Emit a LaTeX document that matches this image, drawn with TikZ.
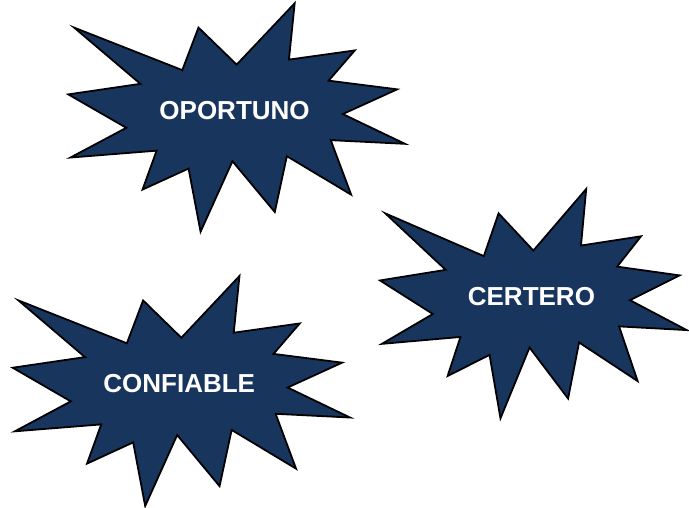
\documentclass[tikz,border=0pt]{standalone}
\usepackage{fontspec}
\setmainfont{Liberation Sans}
\definecolor{burstblue}{RGB}{24,54,93}
\tikzset{
    x=1pt, y=-1pt, % picture measured in pixels, y downwards
    burst/.style={draw=black, line width=1.8pt, fill=burstblue, line join=miter},
    burst text/.style={text=white, font=\fontsize{26}{30}\selectfont\bfseries},
}
% starburst: x, y, width, height, name, text
\newcommand{\burstat}[6]{%
    \begin{scope}[shift={(#1,#2)}, xscale=#3/216, yscale=#4/216]
        \draw[burst] (108,58) -- (145.22,0) -- (141.55,53.25) -- (183.8,44.57)
            -- (167.02,73.15) -- (210.97,81.37) -- (176.07,104.75) -- (216,132.9)
            -- (168.37,129.42) -- (181.45,180.95) -- (140.2,144.57) -- (132.47,197.37)
            -- (105.32,149.35) -- (84.85,216) -- (77.15,156.27) -- (47.62,176.17)
            -- (56.67,139.37) -- (1.35,145.87) -- (37.22,117.75) -- (0,86.15)
            -- (46.27,76.17) -- (3.7,22.95) -- (73.12,63.2) -- (83.52,22.95) -- cycle;
        \node[burst text] (#5) at (106.65,101.3) {#6};
    \end{scope}
}

\begin{document}
\begin{tikzpicture}
    \useasboundingbox (0,0) rectangle (689,508);

    \burstat{68.3}{3.3}{336.7}{228.4}{oportuno}{OPORTUNO}
    \burstat{380}{189}{306.7}{229.3}{certero}{CERTERO}
    \burstat{12.7}{276}{337.3}{230}{confiable}{CONFIABLE}
\end{tikzpicture}
\end{document}
